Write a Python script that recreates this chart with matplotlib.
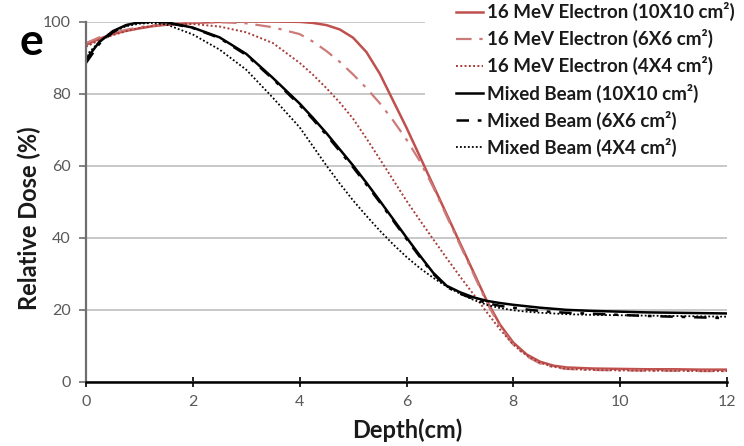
import matplotlib
matplotlib.use('Agg')
import matplotlib.pyplot as plt
from matplotlib.patches import Rectangle

plt.rcParams['font.family'] = ['Lato', 'DejaVu Sans']

# depth grid (cm)
depth = [0, 0.25, 0.5, 0.75, 1, 1.25, 1.5, 2, 2.5, 3, 3.5,
         4, 4.25, 4.5, 4.75, 5, 5.25, 5.5, 5.75, 6, 6.25, 6.5, 6.75,
         7, 7.25, 7.5, 7.75, 8, 8.25, 8.5, 8.75, 9,
         9.5, 10, 10.5, 11, 11.5, 12]

# relative dose (%)
elec_10 = [93.5, 95.2, 96.5, 97.4, 98.1, 98.7, 99.1, 99.6, 99.9, 100, 100,
           99.9, 99.6, 99.0, 97.8, 95.5, 91.5, 85.5, 78.0, 70.5, 62.5, 54.5, 46.5,
           38.5, 30.5, 22.5, 15.8, 10.8, 7.5, 5.5, 4.4, 3.9,
           3.6, 3.5, 3.4, 3.4, 3.3, 3.3]
elec_6 = [94, 95.6, 96.8, 97.7, 98.4, 98.9, 99.3, 99.7, 99.8, 99.5, 98.4,
          96.5, 94.4, 91.8, 88.8, 85.3, 81.5, 77.3, 72.5, 67.2, 61.2, 54, 46,
          38, 30, 22, 15.2, 10.2, 7, 5, 4, 3.5,
          3.2, 3.1, 3.0, 3.0, 2.9, 2.9]
elec_4 = [93, 94.8, 96.2, 97.3, 98.2, 98.8, 99.2, 99.3, 98.6, 97, 94,
          88.5, 85.2, 81.5, 77.5, 73, 67.5, 61.8, 56, 50.2, 44.8, 39.5, 34.3,
          29.2, 24.3, 19.3, 14.5, 10.2, 7.2, 5.2, 4.1, 3.5,
          3.2, 3.1, 3.0, 3.0, 2.9, 2.9]
mixed_10 = [89.5, 94.3, 97.3, 99.0, 99.8, 100, 99.8, 98.3, 95.6, 91, 84.3,
            77.2, 73.2, 69, 64.5, 60, 55.2, 50.2, 45.1, 40, 35, 30.2, 26.6,
            24.8, 23.4, 22.4, 21.8, 21.3, 20.9, 20.5, 20.2, 19.9,
            19.6, 19.4, 19.2, 19.1, 19.0, 18.9]
mixed_6 = [88.5, 93.8, 97, 98.9, 99.7, 99.9, 99.7, 98.2, 95.4, 90.7, 84,
           76.8, 72.8, 68.5, 64, 59.5, 54.7, 49.8, 44.7, 39.6, 34.6, 29.9, 26.3,
           24.4, 23, 21.8, 21, 20.5, 20, 19.6, 19.3, 19.1,
           18.8, 18.5, 18.2, 18, 17.8, 17.6]
mixed_4 = [90.5, 94.4, 97, 98.7, 99.4, 99.6, 99.2, 96.4, 92.2, 86.6, 78.8,
           70.6, 65.3, 60, 55, 50.3, 46, 41.9, 38.1, 34.6, 31.5, 28.8, 26.4,
           24.4, 22.7, 21.3, 20.4, 19.8, 19.4, 19.1, 18.9, 18.7,
           18.5, 18.4, 18.3, 18.2, 18.1, 18.0]

labels = ['16 MeV Electron (10X10 cm\u00b2)', '16 MeV Electron (6X6 cm\u00b2)',
          '16 MeV Electron (4X4 cm\u00b2)', 'Mixed Beam (10X10 cm\u00b2)',
          'Mixed Beam (6X6 cm\u00b2)', 'Mixed Beam (4X4 cm\u00b2)']

fig = plt.figure(figsize=(7.44, 4.46), dpi=100)
ax = fig.add_axes([86 / 744, 1 - 381.5 / 446, 641 / 744, 360 / 446])

ax.plot(depth, elec_10, color='#c0504d', lw=1.8, label=labels[0])
ax.plot(depth, elec_6, color='#cc7b79', lw=1.6, dashes=(7, 3.5, 1.5, 3.5), label=labels[1])
ax.plot(depth, elec_4, color='#a83c3a', lw=1.4, dashes=(1, 1.2), label=labels[2])
ax.plot(depth, mixed_10, color='black', lw=1.8, label=labels[3])
ax.plot(depth, mixed_6, color='black', lw=1.8, dashes=(5, 3.5, 1.5, 3.5), label=labels[4])
ax.plot(depth, mixed_4, color='black', lw=1.3, dashes=(1, 1.2), label=labels[5])

ax.set_xlim(0, 12)
ax.set_ylim(0, 100)
ax.set_xticks(range(0, 13, 2))
ax.set_yticks(range(0, 101, 20))
ax.yaxis.grid(True, color='#bfbfbf', lw=1.2)
ax.set_axisbelow(True)

# white area behind the legend hides the gridlines there
ax.add_patch(Rectangle((0.529, 0.615), 0.5, 0.5, transform=ax.transAxes,
                       facecolor='white', edgecolor='none', zorder=1.5, clip_on=False))

for s in ['top', 'right']:
    ax.spines[s].set_visible(False)
ax.spines['left'].set_color('#6e6e6e')
ax.spines['left'].set_linewidth(1.6)
ax.spines['bottom'].set_color('black')
ax.spines['bottom'].set_linewidth(1.8)

ax.tick_params(axis='x', direction='inout', length=7, width=1.2, colors='black',
               labelcolor='#595959', labelsize=11.5, pad=6)
ax.tick_params(axis='y', direction='out', length=5, width=1.2, colors='#6e6e6e',
               labelcolor='#595959', labelsize=11.5, pad=6)

fig.text(407 / 744, 1 - 430 / 446, 'Depth(cm)', ha='center', va='center',
         fontsize=17, fontweight='bold', color='#1a1a1a')
fig.text(29 / 744, 1 - 218 / 446, 'Relative Dose (%)', ha='center', va='center',
         rotation=90, fontsize=17, fontweight='bold', color='#1a1a1a')
fig.text(31 / 744, 1 - 42 / 446, 'e', ha='center', va='center',
         fontsize=32, fontweight='bold', color='black')

leg = ax.legend(loc='upper left', bbox_to_anchor=(445 / 744, 1 + 9 / 446),
                bbox_transform=fig.transFigure, frameon=False,
                prop={'size': 13.5, 'weight': 'bold'}, handlelength=1.45,
                handletextpad=0.2, labelspacing=0.43, borderpad=0.1)
for t in leg.get_texts():
    t.set_color('#1a1a1a')

fig.savefig('out.png', dpi=100)
